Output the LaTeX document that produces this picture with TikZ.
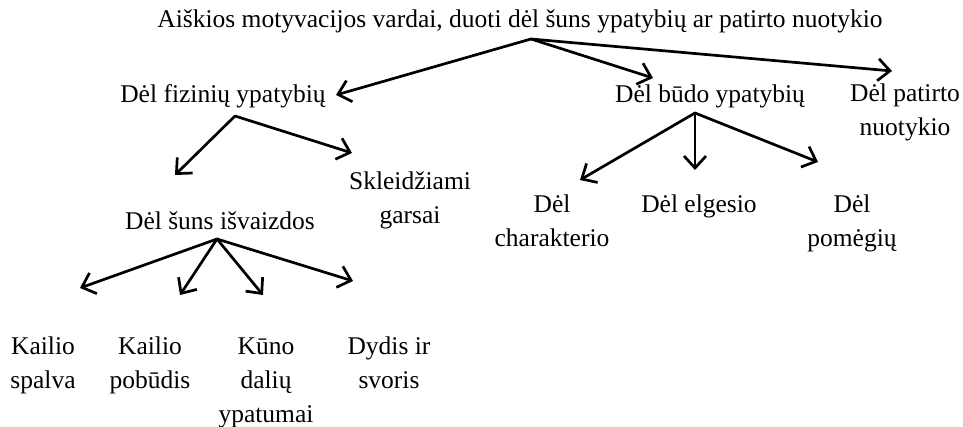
\documentclass[tikz,border=0pt]{standalone}
\usepackage{fontspec}
\setmainfont{Liberation Serif}
\usetikzlibrary{arrows.meta}
\begin{document}
\begin{tikzpicture}[x=1pt,y=-1pt,
  lbl/.style={font=\fontsize{25.5}{34}\selectfont, align=center, anchor=base, inner sep=0pt},
  arr/.style={line width=2.7pt, line cap=round, -{Straight Barb[length=12pt,width=22pt,line width=2.7pt]}}]
\useasboundingbox (0,0) rectangle (963,427);
% nodes (anchor = baseline of the last line)
\node[lbl] (title) at (520,28) {Aiškios motyvacijos vardai, duoti dėl šuns ypatybių ar patirto nuotykio};
\node[lbl] (fiz) at (223,103) {Dėl fizinių ypatybių};
\node[lbl] (budo) at (710,103) {Dėl būdo ypatybių};
\node[lbl] (pat) at (905,136) {Dėl patirto\\nuotykio};
\node[lbl] (skl) at (410,224) {Skleidžiami\\garsai};
\node[lbl] (isv) at (220,230) {Dėl šuns išvaizdos};
\node[lbl] (char) at (552,247) {Dėl\\charakterio};
\node[lbl] (elg) at (699,213) {Dėl elgesio};
\node[lbl] (pom) at (852,247) {Dėl\\pomėgių};
\node[lbl] (ks) at (43,388) {Kailio\\spalva};
\node[lbl] (kp) at (150,388) {Kailio\\pobūdis};
\node[lbl] (kd) at (266,422) {Kūno\\dalių\\ypatumai};
\node[lbl] (dy) at (389,388) {Dydis ir\\svoris};
% connector points
\coordinate (t0) at (531,39);
\coordinate (tfiz) at (336,95);
\coordinate (tbudo) at (653,78);
\coordinate (tpat) at (892,71);
\coordinate (f0) at (235,116);
\coordinate (fisv) at (175,175);
\coordinate (fskl) at (352,153);
\coordinate (i0) at (217,239);
\coordinate (iks) at (80,288);
\coordinate (ikp) at (180,295);
\coordinate (ikd) at (263,295);
\coordinate (idy) at (353,281);
\coordinate (b0) at (695,113);
\coordinate (bchar) at (580,180);
\coordinate (belg) at (695,170);
\coordinate (bpom) at (818,162);
% connectors
\draw[arr] (t0) -- (tfiz);
\draw[arr] (t0) -- (tbudo);
\draw[arr] (t0) -- (tpat);
\draw[arr] (f0) -- (fisv);
\draw[arr] (f0) -- (fskl);
\draw[arr] (i0) -- (iks);
\draw[arr] (i0) -- (ikp);
\draw[arr] (i0) -- (ikd);
\draw[arr] (i0) -- (idy);
\draw[arr] (b0) -- (bchar);
\draw[arr] (b0) -- (belg);
\draw[arr] (b0) -- (bpom);
\end{tikzpicture}
\end{document}
